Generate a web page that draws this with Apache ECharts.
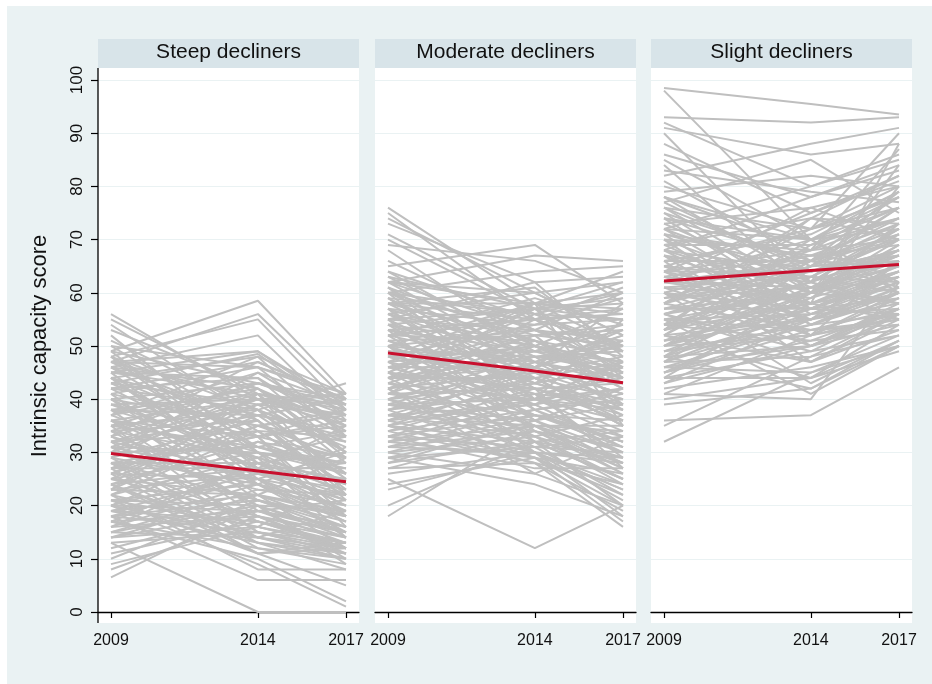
<!DOCTYPE html>
<html>
<head>
<meta charset="utf-8">
<script src="https://cdn.jsdelivr.net/npm/echarts@6/dist/echarts.min.js"></script>
<style>
  html, body { margin: 0; padding: 0; background: #fff; }
  #main { width: 932px; height: 684px; }
</style>
</head>
<body>
<div id="main"></div>
<script>
// waves and panels
const years = [2009, 2014, 2017];
const panelNames = ['Steep decliners', 'Moderate decliners', 'Slight decliners'];
const yTicks = [0, 10, 20, 30, 40, 50, 60, 70, 80, 90, 100];

// individual trajectories: [2009, 2014, 2017]
const steep = [
  [56,40,30],[55,41,28],[54,36,22],[53,42,35],[52,30,18],[51,38,25],[49,58.5,41],[47,56,40],
  [48,55,38],[46,52,36],[45,49,39],[44,48,33],[43,48.5,37],[47,46,41],[33,47,40],[30,45,35],
  [50,34,24],[49,28,20],[48,38,31],[47,33,16],[46,42,29],[45,25,14],[44,37,40],[43,31,27],
  [42,44,34],[41,22,12],[40,35,38],[40,27,19],[39,40,41],[38,30,22],[38,19,13],[37,42,30],
  [36,33,36],[36,24,17],[35,38,26],[35,15,11],[34,29,33],[34,36,21],[33,20,15],[33,41,39],
  [32,26,28],[32,34,24],[31,17,12],[31,39,37],[30,23,20],[30,31,34],[29,36,25],[29,14,10],
  [28,28,30],[28,21,16],[27,33,38],[27,12,9],[26,25,22],[26,38,32],[25,18,14],[25,30,27],
  [24,13,11],[24,27,35],[23,22,19],[23,35,29],[22,16,12],[22,29,24],[21,11,13],[21,24,31],
  [20,19,16],[20,32,26],[19,13,8],[19,26,21],[18,21,17],[18,15,12],[17,28,23],[17,12,10],
  [16,18,15],[16,24,20],[15,14,12],[15,20,19],[14,16,13],[14,22,18],[13,15,11],[12,19,16],
  [11,17,14],[10,21,18],[9,16,12],[8,18,12],[6.5,20,10],[13,0,0],[18,6,6],[20,9,1],
  [17,10,2],[22,8,8],[26,11,5],[38,41,36],[42,38,43],[45,44,30],[41,46,33],[37,45,39],
  [35,43,40],[32,40,37],[29,42,33],[27,39,30],[25,37,26],[23,41,22],[46,30,28],[44,26,25],
  [39,33,18],[36,29,14],[34,20,9],[31,25,17],[28,17,13],[24,14,19],[21,16,25],[19,22,29],
  [49,43,37],[48,31,26],[47,40,35],[46,36,23],[45,41,38],[44,33,29],[43,39,41],[42,28,20],
  [41,35,32],[40,43,39],[39,29,24],[38,37,34],[37,27,18],[36,40,36],[35,31,28],[34,43,38],
  [33,25,19],[32,37,33],[31,30,26],[30,40,39],[29,24,15],[28,33,35],[27,27,21],[26,35,37],
  [25,22,16],[24,32,29],[23,26,23],[22,34,33],[21,20,14],[20,27,27],[19,17,12],[18,25,30],
  [17,19,15],[16,28,25],[15,23,22],[14,19,21],[20,14,11],[24,11,12],[28,13,10],[32,15,13],
  [36,18,11],[40,21,15],[44,24,18],[48,27,22],[50,46,40],[47,49,38],[42,47,40],[37,48,41]
];
const moderate = [
  [76,58,50],[75,55,45],[74,60,52],[73,62,48],[71,57,55],[69,66,60],[65,69,58],[62,67,66],
  [60,64,65],[58,58,64],[55,62,63],[18,35,30],[20,32,25],[23,30,28],[25,12,20],[27,28,16],
  [29,24,18],[30,26,20],[32,29,17],[33,27,27],
  [64,55,50],[63,50,44],[62,58,57],[61,45,40],[60,52,54],[60,48,38],[59,56,60],[58,44,35],
  [58,51,48],[57,54,55],[57,40,33],[56,47,52],[55,53,46],[55,42,36],[54,57,58],[54,38,30],
  [53,49,44],[53,55,61],[52,46,41],[52,36,28],[51,52,53],[51,43,38],[50,58,56],[50,41,34],
  [49,48,49],[49,35,26],[48,54,59],[48,44,40],[47,50,47],[47,33,24],[46,46,52],[46,39,31],
  [45,56,55],[45,42,37],[44,48,45],[44,31,22],[43,52,50],[43,40,36],[42,45,43],[42,30,21],
  [41,50,57],[41,37,32],[40,43,46],[40,34,27],[39,47,51],[39,36,30],[38,41,39],[38,29,20],
  [37,45,48],[37,33,28],[36,39,42],[36,30,23],[35,44,47],[35,32,25],[34,38,40],[34,28,19],
  [33,41,44],[32,35,35],[31,38,41],[30,33,37],[29,31,33],[28,36,39],[27,34,31],[26,30,29],
  [24,29,26],[62,47,43],[66,53,46],[68,50,42],[70,56,49],[56,60,62],[59,42,27],[47,57,44],
  [44,52,39],[41,55,50],[39,40,55],[36,46,58],[50,30,24],[53,32,29],[57,36,42],[61,40,47],
  [45,58,35],[42,26,33],[56,50,45],[54,46,50],[52,51,42],[50,47,39],[48,39,45],[46,50,44],
  [44,44,36],[42,49,47],[40,46,41],[38,44,35],[37,39,46],[35,40,38],[33,37,32],[31,34,29],
  [64,49,53],[63,57,47],[62,53,60],[61,51,43],[60,56,50],[59,46,41],[58,55,57],[57,48,46],
  [56,43,39],[55,57,59],[54,50,47],[53,45,37],[52,55,56],[51,40,42],[50,53,51],[49,44,35],
  [48,49,54],[47,41,29],[46,53,49],[45,37,33],[44,46,53],[43,35,27],[42,51,45],[41,42,38],
  [40,48,50],[39,33,25],[38,47,44],[37,35,34],[36,43,51],[35,29,22],[34,42,43],[33,31,30],
  [32,40,47],[31,30,23],[30,37,36],[29,35,28],[28,32,34],[60,38,32],[55,34,26],[50,37,31],
  [45,32,20],[40,30,18],[35,28,24],[62,60,52],[58,61,49],[52,59,54],[48,58,60],[44,57,62]
];
const slight = [
  [98.5,95.5,93.5],[98,70,60],[93,92,93],[92,80,85],[91,86,88],[90,62,55],[88,75,82],[86,78,84],
  [85,70,62],[84,60,70],[83,79,77],[82,88,91],[80,72,90],[79,82,80],[78,68,87],[77,85,75],
  [76,65,66],[75,58,55],[74,70,72],[73,76,70],[72,62,68],[71,54,60],[70,68,78],[69,74,73],
  [68,60,65],[67,50,57],[66,66,71],[65,72,76],[64,58,63],[64,64,68],[63,55,58],[62,70,74],
  [62,61,66],[61,52,56],[60,67,69],[60,57,62],[59,63,72],[58,53,54],[58,68,70],[57,60,64],
  [56,49,52],[56,65,67],[55,56,60],[54,62,71],[54,51,53],[53,58,63],[52,66,65],[52,47,55],
  [51,55,61],[50,61,58],[50,52,66],[49,59,69],[48,50,57],[48,56,62],[47,63,60],[47,48,52],
  [46,54,59],[46,45,50],[45,58,64],[45,51,57],[44,44,54],[43,55,66],[42,46,50],[41,52,60],
  [40,44,49],[39,42,50],[35,48,56],[32,45,52],[36,37,46],[41,40,62],[55,41,50],[60,43,51],
  [66,47,56],[70,52,59],[74,57,64],[78,62,72],[81,66,79],[72,80,86],[68,78,83],[64,75,81],
  [58,72,78],[52,69,74],[50,60,80],[56,62,84],[62,58,88],[48,65,76],[53,74,70],[44,60,73],
  [75,66,70],[71,64,67],[67,63,62],[63,67,65],[61,59,68],[59,66,61],[57,64,66],[55,60,67],
  [53,62,58],[51,57,59],[49,54,61],[47,57,56],[45,53,55],[43,50,58],[69,57,63],[65,55,60],
  [78,70,76],[77,64,68],[76,72,80],[74,66,74],[73,61,65],[72,70,78],[71,67,73],[70,60,63],
  [69,69,76],[68,64,70],[67,58,61],[66,71,79],[65,62,67],[64,68,74],[63,59,64],[62,66,72],
  [61,63,70],[60,55,60],[59,61,67],[58,65,73],[57,57,63],[56,60,69],[55,53,57],[54,58,65],
  [53,65,71],[52,55,60],[51,61,68],[50,57,64],[49,52,59],[48,60,66],[47,55,62],[46,50,56],
  [45,56,63],[44,49,57],[76,60,58],[72,56,57],[68,54,56],[64,52,55],[60,50,54],[56,47,53],
  [52,44,51],[48,42,51],[58,74,82],[62,76,80],[54,70,79],[50,66,76]
];

// group means (red lines)
const steepMean = [29.8, 26.5, 24.5];
const moderateMean = [48.7, 45.3, 43.1];
const slightMean = [62.2, 64.2, 65.3];

const panelData = [steep, moderate, slight];
const panelMeans = [steepMean, moderateMean, slightMean];

const chart = echarts.init(document.getElementById('main'));

const FONT = 'Liberation Sans, Arial, sans-serif';
const panelLeft = [98, 375, 651];
const panelW = 261;
const plotTop = 80, plotH = 532; // 100 -> y=80, 0 -> y=612
// axis range padded so 2009/2017 sit 13px inside the panel
const pad = 13 / ((panelW - 26) / 8);

const grids = [], xAxes = [], yAxes = [], series = [], graphics = [];

graphics.push({ type: 'rect', shape: { x: 7, y: 6, width: 925, height: 678 }, style: { fill: '#eaf2f3' }, z: -20 });

panelNames.forEach((name, i) => {
  const L = panelLeft[i];
  grids.push({ left: L, top: plotTop, width: panelW, height: plotH });

  graphics.push({ type: 'rect', shape: { x: L, y: 39, width: panelW, height: 29 }, style: { fill: '#d8e4e9' }, z: -10 });
  graphics.push({ type: 'rect', shape: { x: L, y: 68, width: panelW, height: 555 }, style: { fill: '#ffffff' }, z: -10 });
  graphics.push({
    type: 'text', x: L + panelW / 2, y: 52, z: 10,
    style: { text: name, fill: '#111', font: '21px ' + FONT, textAlign: 'center', textVerticalAlign: 'middle' }
  });

  xAxes.push({
    gridIndex: i, type: 'value', min: 2009 - pad, max: 2017 + pad,
    offset: 11,
    axisLine: { show: true, lineStyle: { color: '#000', width: 1.3 } },
    axisTick: { show: true, length: 6, customValues: years, lineStyle: { color: '#000', width: 1.2 } },
    axisLabel: {
      show: true, customValues: years, fontSize: 16, color: '#111', fontFamily: FONT, margin: 10,
      formatter: v => String(v)
    },
    splitLine: { show: false }
  });

  yAxes.push({
    gridIndex: i, type: 'value', min: 0, max: 100, interval: 10,
    axisLine: { show: false },
    axisTick: { show: i === 0, length: 7, lineStyle: { color: '#000', width: 1.2 } },
    axisLabel: { show: i === 0, rotate: 90, fontSize: 17, color: '#111', fontFamily: FONT, margin: 12 },
    splitLine: { show: true, lineStyle: { color: '#eaf2f3', width: 1 } },
    name: i === 0 ? 'Intrinsic capacity score' : '',
    nameLocation: 'middle', nameGap: 47,
    nameTextStyle: { fontSize: 22, color: '#111', fontFamily: FONT }
  });

  panelData[i].forEach(row => {
    series.push({
      type: 'line', xAxisIndex: i, yAxisIndex: i, silent: true,
      symbol: 'none', z: 2,
      data: years.map((yr, k) => [yr, row[k]]),
      lineStyle: { color: '#bfbfbf', width: 2 }
    });
  });
  series.push({
    type: 'line', xAxisIndex: i, yAxisIndex: i, silent: true,
    symbol: 'none', z: 5,
    data: years.map((yr, k) => [yr, panelMeans[i][k]]),
    lineStyle: { color: '#c8102e', width: 3 }
  });
});

// y axis line of the first panel spans the whole plot area
graphics.push({ type: 'line', shape: { x1: 98, y1: 68, x2: 98, y2: 623 }, style: { stroke: '#000', lineWidth: 1.3 }, z: 10 });

chart.setOption({
  animation: false,
  backgroundColor: '#ffffff',
  grid: grids,
  xAxis: xAxes,
  yAxis: yAxes,
  graphic: graphics,
  series: series
});
</script>
</body>
</html>
